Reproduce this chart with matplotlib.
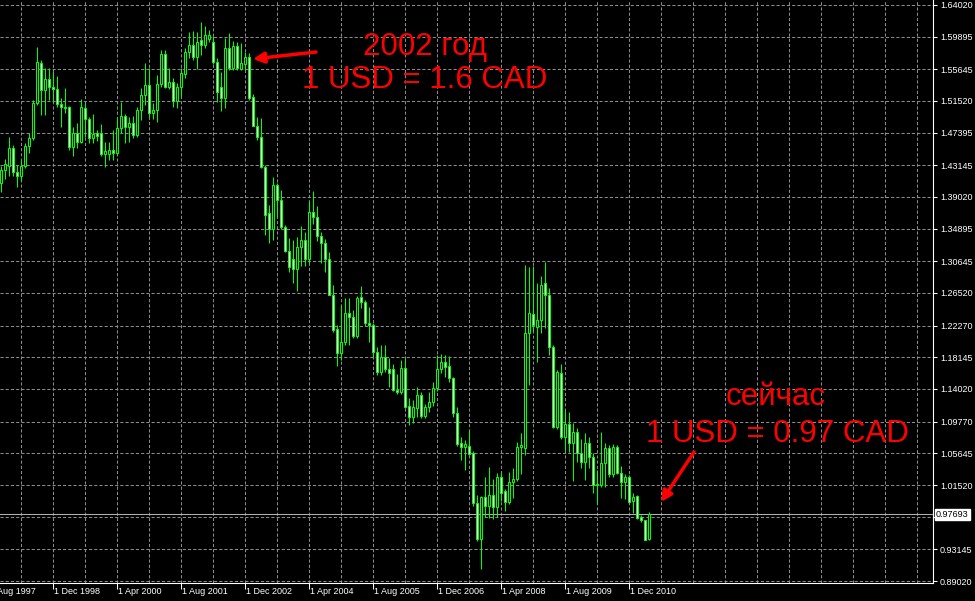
import numpy as np
import matplotlib
matplotlib.use('Agg')
import matplotlib.pyplot as plt
from matplotlib.transforms import blended_transform_factory

##### Data: USDCAD monthly candles, Nov 1997 - May 2011 #####
opens = [1.408, 1.425, 1.430, 1.454, 1.423, 1.417, 1.430, 1.456, 1.467, 1.513,
         1.565, 1.530, 1.544, 1.533, 1.531, 1.511, 1.508, 1.507, 1.455, 1.473,
         1.462, 1.506, 1.492, 1.467, 1.473, 1.473, 1.446, 1.446, 1.451, 1.447,
         1.480, 1.496, 1.481, 1.487, 1.471, 1.503, 1.523, 1.536, 1.500, 1.503,
         1.537, 1.576, 1.534, 1.540, 1.515, 1.533, 1.550, 1.579, 1.588, 1.572,
         1.594, 1.588, 1.596, 1.592, 1.566, 1.534, 1.519, 1.584, 1.558, 1.587,
         1.557, 1.563, 1.572, 1.520, 1.483, 1.468, 1.429, 1.369, 1.348, 1.406,
         1.386, 1.351, 1.320, 1.309, 1.296, 1.325, 1.334, 1.310, 1.371, 1.364,
         1.340, 1.330, 1.310, 1.263, 1.218, 1.187, 1.201, 1.239, 1.234, 1.209,
         1.260, 1.253, 1.226, 1.224, 1.188, 1.162, 1.182, 1.166, 1.166, 1.139,
         1.136, 1.167, 1.118, 1.104, 1.116, 1.132, 1.105, 1.117, 1.123, 1.141,
         1.166, 1.175, 1.170, 1.154, 1.109, 1.070, 1.065, 1.066, 1.057, 0.992,
         0.945, 1.000, 0.988, 1.002, 0.986, 1.026, 1.007, 0.993, 1.019, 1.023,
         1.065, 1.064, 1.213, 1.238, 1.221, 1.230, 1.278, 1.262, 1.195, 1.091,
         1.161, 1.078, 1.095, 1.070, 1.084, 1.057, 1.045, 1.070, 1.052, 1.015,
         1.015, 1.044, 1.063, 1.029, 1.065, 1.031, 1.019, 1.025, 0.994, 1.001,
         0.973, 0.969, 0.945]
highs = [1.430, 1.440, 1.468, 1.458, 1.432, 1.438, 1.461, 1.473, 1.516, 1.585,
         1.569, 1.558, 1.558, 1.553, 1.548, 1.519, 1.532, 1.509, 1.481, 1.487,
         1.518, 1.513, 1.494, 1.498, 1.477, 1.485, 1.462, 1.462, 1.477, 1.493,
         1.514, 1.498, 1.494, 1.496, 1.507, 1.532, 1.565, 1.558, 1.512, 1.549,
         1.582, 1.582, 1.558, 1.545, 1.539, 1.558, 1.584, 1.605, 1.606, 1.605,
         1.618, 1.613, 1.608, 1.600, 1.571, 1.553, 1.597, 1.604, 1.593, 1.592,
         1.591, 1.579, 1.578, 1.524, 1.494, 1.493, 1.432, 1.380, 1.416, 1.408,
         1.399, 1.354, 1.337, 1.334, 1.338, 1.353, 1.345, 1.385, 1.398, 1.379,
         1.345, 1.335, 1.318, 1.276, 1.223, 1.249, 1.259, 1.259, 1.243, 1.261,
         1.274, 1.256, 1.247, 1.226, 1.195, 1.197, 1.197, 1.181, 1.173, 1.160,
         1.178, 1.181, 1.128, 1.126, 1.143, 1.136, 1.121, 1.136, 1.149, 1.184,
         1.186, 1.184, 1.183, 1.156, 1.117, 1.078, 1.074, 1.087, 1.060, 1.002,
         1.001, 1.025, 1.038, 1.023, 1.031, 1.032, 1.010, 1.032, 1.037, 1.071,
         1.083, 1.302, 1.299, 1.300, 1.278, 1.287, 1.306, 1.272, 1.198, 1.165,
         1.173, 1.113, 1.110, 1.096, 1.089, 1.075, 1.083, 1.078, 1.057, 1.035,
         1.084, 1.070, 1.067, 1.068, 1.067, 1.040, 1.029, 1.028, 1.005, 1.002,
         0.976, 0.970, 0.980]
lows = [1.397, 1.413, 1.418, 1.418, 1.403, 1.411, 1.428, 1.447, 1.464, 1.510,
        1.497, 1.497, 1.517, 1.514, 1.508, 1.481, 1.500, 1.452, 1.443, 1.454,
        1.460, 1.468, 1.460, 1.460, 1.463, 1.443, 1.429, 1.438, 1.438, 1.445,
        1.473, 1.460, 1.462, 1.467, 1.468, 1.490, 1.510, 1.494, 1.492, 1.488,
        1.533, 1.532, 1.531, 1.507, 1.506, 1.520, 1.545, 1.571, 1.568, 1.557,
        1.575, 1.584, 1.592, 1.563, 1.514, 1.502, 1.506, 1.556, 1.556, 1.556,
        1.555, 1.556, 1.517, 1.482, 1.464, 1.428, 1.341, 1.330, 1.334, 1.364,
        1.349, 1.318, 1.293, 1.278, 1.268, 1.300, 1.300, 1.304, 1.355, 1.333,
        1.304, 1.292, 1.262, 1.215, 1.170, 1.178, 1.198, 1.197, 1.206, 1.206,
        1.246, 1.222, 1.202, 1.182, 1.158, 1.158, 1.162, 1.143, 1.137, 1.134,
        1.134, 1.115, 1.093, 1.096, 1.104, 1.103, 1.102, 1.110, 1.118, 1.138,
        1.161, 1.156, 1.149, 1.104, 1.066, 1.048, 1.035, 1.054, 0.988, 0.942,
        0.906, 0.973, 0.972, 0.971, 0.973, 0.994, 0.981, 0.990, 0.998, 1.020,
        1.030, 1.054, 1.146, 1.216, 1.175, 1.213, 1.220, 1.184, 1.089, 1.088,
        1.075, 1.061, 1.058, 1.020, 1.045, 1.037, 1.022, 1.037, 1.005, 0.990,
        1.013, 1.013, 1.025, 1.026, 1.029, 0.998, 0.997, 0.992, 0.979, 0.971,
        0.967, 0.943, 0.943]
closes = [1.425, 1.433, 1.454, 1.423, 1.417, 1.430, 1.457, 1.467, 1.513, 1.566,
          1.530, 1.544, 1.533, 1.531, 1.511, 1.508, 1.506, 1.455, 1.473, 1.462,
          1.507, 1.492, 1.467, 1.472, 1.469, 1.446, 1.450, 1.451, 1.447, 1.480,
          1.496, 1.481, 1.487, 1.471, 1.503, 1.523, 1.536, 1.500, 1.504, 1.537,
          1.576, 1.534, 1.540, 1.515, 1.533, 1.552, 1.579, 1.588, 1.572, 1.592,
          1.588, 1.601, 1.601, 1.566, 1.527, 1.519, 1.584, 1.558, 1.587, 1.558,
          1.565, 1.572, 1.519, 1.483, 1.468, 1.429, 1.367, 1.348, 1.406, 1.386,
          1.351, 1.320, 1.299, 1.296, 1.325, 1.334, 1.310, 1.371, 1.364, 1.340,
          1.330, 1.310, 1.263, 1.217, 1.187, 1.201, 1.239, 1.234, 1.209, 1.259,
          1.253, 1.226, 1.224, 1.188, 1.162, 1.182, 1.166, 1.161, 1.139, 1.136,
          1.167, 1.117, 1.104, 1.117, 1.132, 1.105, 1.117, 1.123, 1.141, 1.166,
          1.175, 1.169, 1.154, 1.109, 1.068, 1.065, 1.069, 1.055, 0.992, 0.945,
          1.000, 0.988, 1.002, 0.986, 1.026, 1.005, 0.993, 1.019, 1.023, 1.065,
          1.067, 1.213, 1.239, 1.223, 1.230, 1.276, 1.262, 1.195, 1.091, 1.162,
          1.078, 1.095, 1.070, 1.084, 1.057, 1.045, 1.070, 1.052, 1.015, 1.017,
          1.044, 1.063, 1.029, 1.065, 1.031, 1.019, 1.025, 0.993, 0.999, 0.972,
          0.970, 0.944, 0.97693]

bid = 0.97693

# right-hand price scale
price_ticks = [1.64020, 1.59895, 1.55645, 1.51520, 1.47395, 1.43145, 1.39020,
               1.34895, 1.30645, 1.26520, 1.22270, 1.18145, 1.14020, 1.09770,
               1.05645, 1.01520, 0.97395, 0.93145, 0.89020]
price_labels = ['1.64020', '1.59895', '1.55645', '1.51520', '1.47395', '1.43145',
                '1.39020', '1.34895', '1.30645', '1.26520', '1.22270', '1.18145',
                '1.14020', '1.09770', '1.05645', '1.01520', '', '0.93145', '0.89020']

# time scale (bar index of each label, bar 0 = Nov 1997)
date_ticks = [-3, 13, 29, 45, 61, 77, 93, 109, 125, 141, 157]
date_labels = ['1 Aug 1997', '1 Dec 1998', '1 Apr 2000', '1 Aug 2001', '1 Dec 2002',
               '1 Apr 2004', '1 Aug 2005', '1 Dec 2006', '1 Apr 2008', '1 Aug 2009',
               '1 Dec 2010']

##### Style #####
W, H = 975, 601
BULL_EDGE = '#00ff00'
GRID = '#8c8c8c'
RED = '#ff0000'
plt.rcParams['font.family'] = ['Liberation Sans', 'DejaVu Sans']

fig = plt.figure(figsize=(W / 100, H / 100), dpi=100, facecolor='black')
ax = fig.add_axes([0, 18 / H, 933 / W, 583 / H])
ax.set_facecolor('black')
ax.set_xlim(-0.125, 233.125)
ax.set_ylim(0.8876, 1.6467)

# dotted grid
for p in price_ticks:
    ax.axhline(p, color=GRID, lw=0.75, ls=(0, (3, 2)), zorder=1)
for k in range(5, 234, 8):
    ax.axvline(k, color=GRID, lw=0.75, ls=(0, (3, 2)), zorder=1)

# bid line
ax.axhline(bid, color='#b0b0b0', lw=0.75, zorder=1.5)

##### Candles #####
o = np.array(opens)
h = np.array(highs)
l = np.array(lows)
c = np.array(closes)
x = np.arange(len(o))
up = c >= o

ax.vlines(x, l, h, color=BULL_EDGE, lw=0.75, zorder=2)
ax.bar(x, np.abs(c - o), bottom=np.minimum(o, c), width=0.5,
       color=np.where(up, 'black', 'white'), edgecolor=BULL_EDGE,
       linewidth=0.75, zorder=3)

##### Axes #####
for side in ['top', 'left']:
    ax.spines[side].set_visible(False)
for side in ['right', 'bottom']:
    ax.spines[side].set_color('white')
    ax.spines[side].set_linewidth(0.8)

ax.yaxis.tick_right()
ax.set_yticks(price_ticks)
ax.set_yticklabels(price_labels)
ax.tick_params(axis='y', colors='white', length=3, width=0.75, pad=2,
               labelsize=6.5, direction='out')

ax.set_xticks([t for t in date_ticks if t >= 0])
ax.set_xticklabels([])
ax.tick_params(axis='x', colors='white', length=4, width=0.75, direction='out')

tr = blended_transform_factory(ax.transData, fig.transFigure)
for t, lab in zip(date_ticks, date_labels):
    ax.text(t + 0.5, (H - 592) / H, lab, transform=tr, ha='left', va='center',
            color='white', fontsize=6.5, clip_on=False)

# current price box
trb = blended_transform_factory(ax.transAxes, ax.transData)
ax.text(1.0 + 3 / 933, bid, '0.97693', transform=trb, ha='left', va='center',
        color='black', fontsize=6.5, clip_on=False,
        bbox=dict(facecolor='white', edgecolor='white', boxstyle='square,pad=0.15'))

##### Annotations #####
fig.text(425 / W, 1 - 55 / H, '2002 год', color=RED, fontsize=22.5,
         ha='center', va='baseline')
fig.text(425 / W, 1 - 88 / H, '1 USD = 1.6 CAD', color=RED, fontsize=22.5,
         ha='center', va='baseline')
fig.text(776 / W, 1 - 405 / H, 'сейчас', color=RED, fontsize=22.5,
         ha='center', va='baseline')
fig.text(777 / W, 1 - 442 / H, '1 USD = 0.97 CAD', color=RED, fontsize=22.5,
         ha='center', va='baseline')

arrow = dict(arrowstyle='-|>', color=RED, lw=2.5, mutation_scale=16,
             shrinkA=0, shrinkB=0)
ax.annotate('', xy=(253, H - 59), xytext=(316, H - 52),
            xycoords='figure pixels', textcoords='figure pixels', arrowprops=arrow)
ax.annotate('', xy=(661, H - 502), xytext=(694, H - 452),
            xycoords='figure pixels', textcoords='figure pixels', arrowprops=arrow)

fig.savefig('out.png', dpi=100, facecolor='black')
